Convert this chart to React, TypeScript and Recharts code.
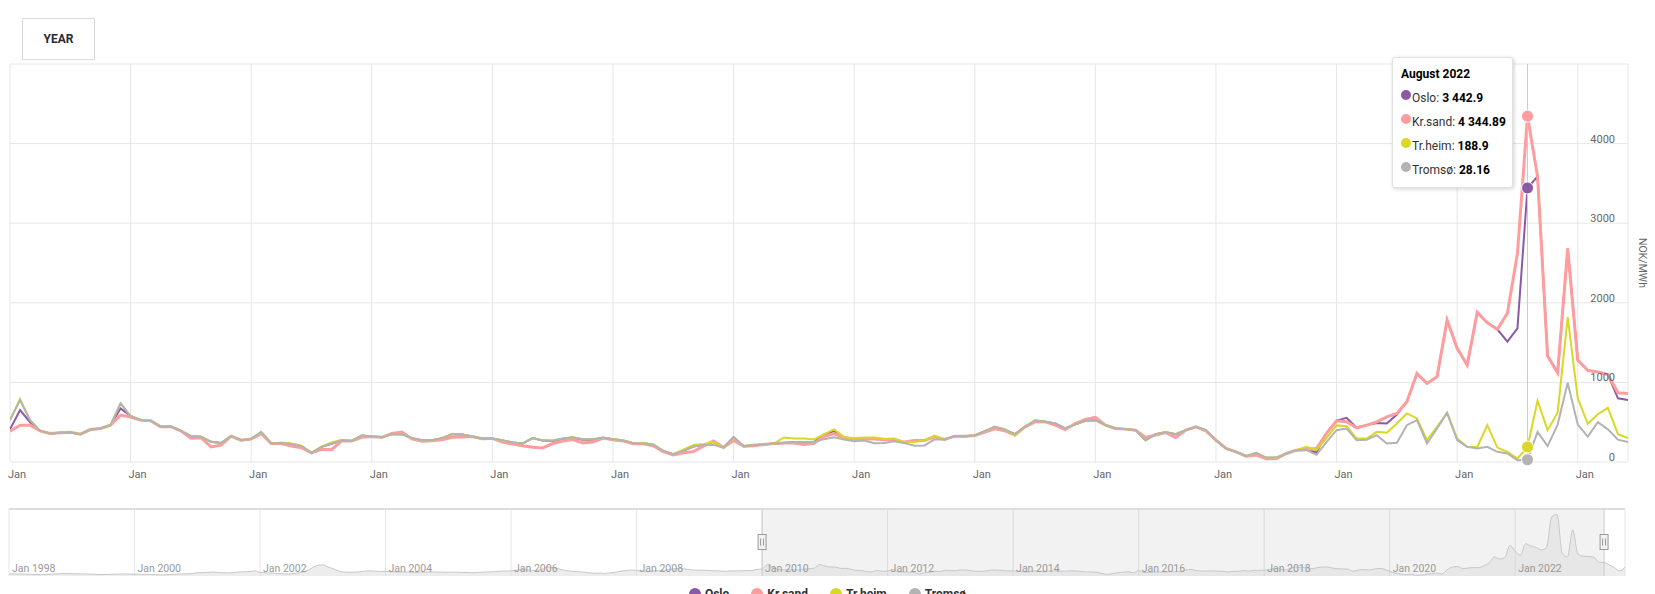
import React from 'react';
import {
  LineChart,
  Line,
  XAxis,
  YAxis,
  CartesianGrid,
  Tooltip,
  AreaChart,
  Area,
  ReferenceArea,
  ReferenceLine,
} from 'recharts';

const FONT = 'Roboto, "Open Sans", sans-serif';
const MONTH_NAMES = [
  'January', 'February', 'March', 'April', 'May', 'June',
  'July', 'August', 'September', 'October', 'November', 'December',
];
const FIRST_YEAR = 2010; // main view starts Jan 2010
const NAV_FIRST_YEAR = 1998; // navigator starts Jan 1998

// monthly prices, NOK/MWh, Jan 2010 – Jun 2023
const oslo = [
  410, 652, 500, 390, 358, 366, 370, 350, 408, 421, 463, 673,
  580, 526, 518, 442, 445, 392, 325, 316, 253, 238, 325, 274,
  290, 370, 232, 240, 225, 200, 115, 190, 230, 274, 265, 333,
  320, 310, 352, 350, 300, 274, 272, 300, 350, 345, 320, 292,
  296, 270, 245, 232, 300, 270, 260, 290, 305, 280, 280, 304,
  287, 270, 237, 237, 216, 140, 98, 140, 195, 215, 250, 182,
  312, 199, 211, 220, 232, 240, 250, 250, 250, 346, 388, 312,
  290, 290, 295, 285, 280, 240, 270, 270, 316, 283, 325, 325,
  333, 388, 442, 400, 350, 442, 518, 505, 484, 421, 472, 518,
  526, 463, 421, 413, 400, 274, 350, 375, 350, 400, 442, 400,
  274, 170, 128, 73, 110, 45, 45, 107, 149, 160, 120, 360,
  520, 555, 430, 463, 490, 484, 597, 757, 1111, 987, 1071, 1784,
  1428, 1218, 1880, 1750, 1667, 1512, 1680, 3442.9, 3587, 1330, 1120, 2680,
  1280, 1150, 1130, 1100, 800, 780,
];
const krsand = [
  387, 463, 463, 390, 358, 366, 375, 350, 408, 421, 463, 589,
  565, 526, 518, 442, 445, 392, 300, 305, 190, 211, 325, 274,
  290, 355, 232, 232, 200, 180, 115, 160, 155, 265, 265, 310,
  320, 310, 358, 375, 290, 262, 266, 280, 310, 315, 320, 292,
  296, 250, 225, 205, 185, 176, 232, 262, 283, 240, 250, 300,
  280, 265, 230, 228, 205, 130, 90, 115, 130, 200, 265, 182,
  270, 199, 205, 220, 232, 240, 240, 220, 235, 320, 358, 305,
  290, 290, 290, 280, 275, 250, 270, 270, 316, 283, 325, 325,
  333, 375, 417, 392, 340, 442, 505, 505, 463, 408, 484, 535,
  560, 463, 421, 413, 400, 308, 340, 370, 308, 400, 442, 392,
  274, 170, 128, 73, 87, 40, 40, 107, 149, 157, 170, 360,
  517, 505, 430, 463, 505, 568, 610, 757, 1111, 987, 1071, 1784,
  1428, 1218, 1880, 1750, 1667, 1868, 2622, 4344.89, 3587, 1330, 1120, 2680,
  1280, 1150, 1130, 1100, 870, 860,
];
const trheim = [
  530, 790, 526, 390, 358, 366, 370, 350, 408, 421, 463, 736,
  576, 526, 518, 442, 445, 392, 325, 320, 253, 238, 325, 274,
  290, 375, 232, 245, 232, 205, 115, 192, 245, 280, 265, 333,
  320, 310, 352, 350, 300, 274, 272, 300, 355, 345, 320, 292,
  296, 270, 245, 232, 300, 270, 270, 296, 312, 287, 287, 304,
  287, 272, 240, 240, 220, 140, 98, 155, 215, 225, 250, 182,
  300, 199, 220, 220, 232, 308, 296, 296, 283, 346, 409, 312,
  300, 308, 308, 292, 296, 250, 250, 270, 333, 283, 325, 325,
  333, 388, 442, 408, 333, 442, 526, 505, 484, 421, 472, 518,
  526, 463, 421, 413, 400, 274, 350, 380, 350, 400, 442, 400,
  274, 170, 128, 73, 115, 55, 55, 107, 149, 190, 150, 300,
  460, 450, 295, 295, 379, 367, 484, 610, 547, 274, 442, 618,
  295, 190, 190, 463, 181, 128, 44, 188.9, 769, 400, 620, 1820,
  800, 480, 600, 680, 350, 300,
];
const tromso = [
  526, 777, 526, 390, 358, 366, 370, 350, 408, 421, 463, 736,
  576, 526, 518, 442, 445, 392, 325, 316, 253, 238, 325, 274,
  290, 378, 232, 240, 225, 200, 115, 190, 230, 274, 265, 333,
  320, 310, 352, 350, 300, 274, 272, 300, 350, 345, 320, 292,
  296, 274, 245, 232, 300, 270, 270, 296, 312, 287, 287, 304,
  287, 270, 237, 237, 216, 140, 98, 140, 195, 215, 215, 182,
  312, 199, 211, 220, 232, 240, 250, 250, 250, 287, 312, 283,
  262, 270, 237, 240, 262, 237, 205, 208, 283, 283, 325, 325,
  333, 388, 442, 408, 350, 442, 518, 505, 484, 421, 472, 518,
  526, 463, 421, 413, 400, 274, 350, 375, 350, 400, 442, 400,
  274, 170, 128, 73, 115, 55, 55, 107, 149, 150, 90, 250,
  400, 421, 274, 280, 337, 232, 241, 463, 526, 232, 421, 618,
  274, 190, 170, 190, 128, 107, 23, 28.16, 379, 200, 470, 996,
  470, 320, 500, 410, 280, 250,
];

// navigator series (Oslo): Jan 1998 – Dec 2009, and Jul – Oct 2023
const osloBefore2010 = [
  130, 120, 115, 110, 100, 90, 80, 95, 110, 120, 140, 150,
  130, 125, 120, 115, 105, 95, 85, 95, 110, 115, 120, 115,
  110, 100, 95, 90, 80, 60, 70, 90, 110, 120, 130, 140,
  190, 200, 210, 230, 210, 190, 180, 200, 230, 250, 260, 300,
  210, 190, 170, 150, 140, 120, 130, 160, 220, 300, 480, 620,
  650, 520, 420, 300, 230, 220, 220, 240, 280, 300, 280, 260,
  270, 250, 240, 230, 230, 220, 210, 230, 230, 240, 230, 230,
  220, 220, 220, 210, 200, 190, 210, 230, 240, 260, 280, 290,
  300, 320, 380, 360, 330, 330, 400, 530, 490, 420, 350, 300,
  270, 250, 220, 180, 160, 170, 150, 190, 220, 280, 320, 340,
  330, 290, 270, 300, 310, 320, 370, 410, 450, 420, 380, 340,
  340, 330, 320, 300, 290, 270, 300, 290, 300, 320, 320, 380,
];
const osloAfterView = [650, 480, 300, 520];

const yTicks = [0, 1000, 2000, 3000, 4000, 5000];
const xTicks = [0, 12, 24, 36, 48, 60, 72, 84, 96, 108, 120, 132, 144, 156];
const navTicks = [0, 24, 48, 72, 96, 120, 144, 168, 192, 216, 240, 264, 288];
const TOOLTIP_INDEX = 151; // August 2022

const series = [
  { key: 'oslo', name: 'Oslo', color: '#8a5aa6', width: 2 },
  { key: 'krsand', name: 'Kr.sand', color: '#ff9c9e', width: 3 },
  { key: 'trheim', name: 'Tr.heim', color: '#d8d825', width: 2 },
  { key: 'tromso', name: 'Tromsø', color: '#b3b3b3', width: 2 },
];

const data = oslo.map((v, i) => ({
  i,
  oslo: v,
  krsand: krsand[i],
  trheim: trheim[i],
  tromso: tromso[i],
}));

const navValues = [...osloBefore2010, ...oslo, ...osloAfterView];
const navData = navValues.map((v, n) => ({ n, v }));
const NAV_START = osloBefore2010.length;
const NAV_END = NAV_START + oslo.length - 1;
const NAV_MAX = 3900;

const fmt = (v: number) => {
  const [int, dec] = String(v).split('.');
  const spaced = int.replace(/\B(?=(\d{3})+(?!\d))/g, ' ');
  return dec ? `${spaced}.${dec}` : spaced;
};

const JanTick = (props: any) => (
  <text x={props.x + 7} y={props.y + 8} fill="#666" fontSize={11} textAnchor="middle">
    Jan
  </text>
);

// right axis labels sit inside the plot, right-aligned
const ValueTick = (props: any) => {
  const v = props.payload.value;
  if (v === 5000) return null;
  return (
    <text x={props.x - 21} y={props.y - 1} fill="#666" fontSize={11} textAnchor="end">
      {v}
    </text>
  );
};

const NavTick = (props: any) => {
  const year = NAV_FIRST_YEAR + Math.floor(props.payload.value / 12);
  return (
    <text x={props.x + 3} y={props.y - 12} fill="#999" fontSize={10.5} textAnchor="start">
      {`Jan ${year}`}
    </text>
  );
};

const Handle = (props: any) => {
  const vb = props.viewBox;
  if (!vb) return null;
  const cx = vb.x;
  const cy = vb.y + vb.height / 2;
  return (
    <g>
      <rect x={cx - 4} y={cy - 8} width={8} height={15} fill="#f2f2f2" stroke="#999" strokeWidth={1} />
      <line x1={cx - 1.5} x2={cx - 1.5} y1={cy - 4} y2={cy + 3} stroke="#999" />
      <line x1={cx + 1.5} x2={cx + 1.5} y1={cy - 4} y2={cy + 3} stroke="#999" />
    </g>
  );
};

const TipBox = (props: any) => {
  const { active, payload } = props;
  if (!active || !payload || !payload.length) return null;
  const i = payload[0].payload.i;
  const title = `${MONTH_NAMES[i % 12]} ${FIRST_YEAR + Math.floor(i / 12)}`;
  return (
    <div
      style={{
        width: 121,
        height: 131,
        boxSizing: 'border-box',
        background: '#fff',
        border: '1px solid #e2e2e2',
        borderRadius: 3,
        boxShadow: '1px 1px 4px rgba(0,0,0,0.18)',
        padding: '8px 0 0 8px',
        fontFamily: FONT,
        fontSize: 12,
        color: '#333',
      }}
    >
      <div style={{ fontWeight: 700, color: '#000', lineHeight: '17px', marginBottom: 3 }}>{title}</div>
      {series.map((s) => (
        <div key={s.key} style={{ height: 24, display: 'flex', alignItems: 'center', whiteSpace: 'nowrap' }}>
          <span
            style={{
              width: 10,
              height: 10,
              borderRadius: 5,
              background: s.color,
              display: 'inline-block',
              marginRight: 1,
              position: 'relative',
              top: -3,
            }}
          />
          <span>{s.name}: </span>
          <span style={{ fontWeight: 700, color: '#000', marginLeft: 3 }}>
            {fmt(payload[0].payload[s.key])}
          </span>
        </div>
      ))}
    </div>
  );
};

export default function App() {
  return (
    <div
      style={{
        position: 'absolute',
        left: 0,
        top: 0,
        width: 1655,
        height: 594,
        overflow: 'hidden',
        background: '#fff',
        fontFamily: FONT,
      }}
    >
      <div
        style={{
          position: 'absolute',
          left: 22,
          top: 18,
          width: 73,
          height: 42,
          boxSizing: 'border-box',
          border: '1px solid #d9d9e0',
          display: 'flex',
          alignItems: 'center',
          justifyContent: 'center',
          fontSize: 12,
          fontWeight: 700,
          color: '#2b2b35',
        }}
      >
        YEAR
      </div>

      <div style={{ position: 'absolute', left: 0, top: 0 }}>
        <LineChart width={1655} height={500} data={data} margin={{ top: 64, right: 0, bottom: 0, left: 10 }}>
          <CartesianGrid stroke="#e6e6e6" />
          <XAxis
            type="number"
            dataKey="i"
            domain={[0, 161]}
            ticks={xTicks}
            interval={0}
            allowDataOverflow
            height={38}
            tickLine={false}
            axisLine={false}
            tick={<JanTick />}
          />
          <YAxis
            orientation="right"
            domain={[0, 5000]}
            ticks={yTicks}
            width={27}
            tickLine={false}
            axisLine={false}
            tick={<ValueTick />}
          />
          <Tooltip
            active
            defaultIndex={TOOLTIP_INDEX}
            position={{ x: 1392, y: 57 }}
            cursor={{ stroke: '#cccccc', strokeWidth: 1 }}
            content={<TipBox />}
            isAnimationActive={false}
            wrapperStyle={{ outline: 'none' }}
          />
          {series.map((s) => (
            <Line
              key={s.key}
              type="linear"
              dataKey={s.key}
              name={s.name}
              stroke={s.color}
              strokeWidth={s.width}
              dot={false}
              activeDot={{ r: 6, fill: s.color, stroke: '#fff', strokeWidth: 1 }}
              isAnimationActive={false}
            />
          ))}
        </LineChart>
      </div>

      <div
        style={{
          position: 'absolute',
          left: 1642,
          top: 263,
          transform: 'translate(-50%, -50%)',
          writingMode: 'vertical-rl',
          fontSize: 10.5,
          color: '#666',
        }}
      >
        NOK/MWh
      </div>

      <div style={{ position: 'absolute', left: 0, top: 500 }}>
        <AreaChart width={1655} height={94} data={navData} margin={{ top: 9, right: 30, bottom: 0, left: 9 }}>
          <CartesianGrid stroke="#e6e6e6" horizontal={false} />
          <XAxis
            type="number"
            dataKey="n"
            domain={[0, navData.length - 1]}
            ticks={navTicks}
            interval={0}
            height={18}
            tickLine={false}
            axisLine={false}
            tick={<NavTick />}
          />
          <YAxis hide domain={[0, NAV_MAX]} />
          <ReferenceArea x1={NAV_START} x2={NAV_END} fill="#000" fillOpacity={0.05} stroke="none" />
          <Area
            type="monotone"
            dataKey="v"
            stroke="#c8c8c8"
            strokeWidth={1}
            fill="#dcdcdc"
            fillOpacity={0.5}
            isAnimationActive={false}
          />
          <ReferenceLine y={NAV_MAX} stroke="#dddddd" strokeWidth={2} />
          <ReferenceLine x={NAV_START} stroke="#cccccc" label={<Handle />} />
          <ReferenceLine x={NAV_END} stroke="#cccccc" label={<Handle />} />
        </AreaChart>
      </div>

      <div
        style={{
          position: 'absolute',
          left: 0,
          top: 587,
          width: 1655,
          display: 'flex',
          justifyContent: 'center',
          gap: 22,
          fontSize: 12,
          fontWeight: 700,
          color: '#333',
        }}
      >
        {series.map((s) => (
          <div key={s.key} style={{ display: 'flex', alignItems: 'center' }}>
            <span
              style={{ width: 12, height: 12, borderRadius: 6, background: s.color, display: 'inline-block', marginRight: 4 }}
            />
            {s.name}
          </div>
        ))}
      </div>
    </div>
  );
}
